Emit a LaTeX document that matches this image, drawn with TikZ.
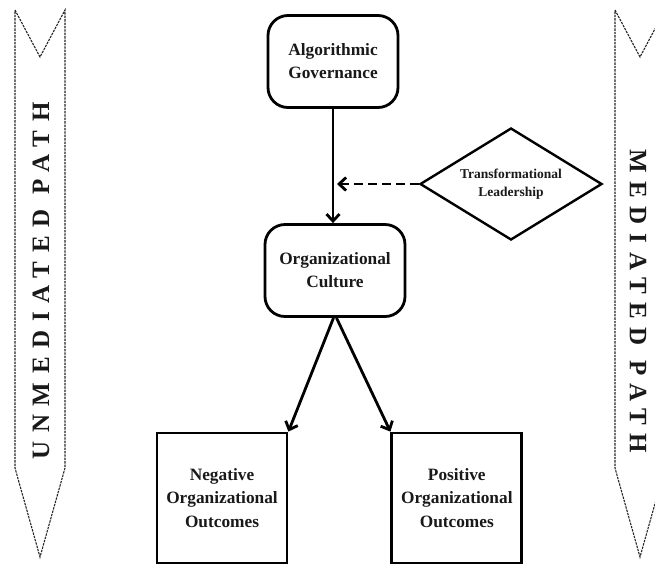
\documentclass[tikz,border=0pt]{standalone}
\usepackage{fontspec}
\setmainfont{Liberation Serif}
\usetikzlibrary{arrows.meta,calc,positioning,shapes.geometric}
\tikzset{
	flow diagram/.style={
		x=1pt, y=-1pt,
		every node/.style={align=center, text=black!90},
		ar/.style={line width=2.8pt, -{Straight Barb[length=7pt,width=13pt,line width=2.8pt]}},
		dar/.style={ar, dash pattern=on 9pt off 5pt}
		},
	rbox/.style={draw, line width=2.8pt, rounded corners=20pt,
		minimum width=#1, minimum height=92pt,
		font=\bfseries\fontsize{17.3}{23}\selectfont},
	rbox/.default=130pt,
	sbox/.style={draw, line width=2.8pt, minimum size=130pt, inner sep=2pt,
		font=\bfseries\fontsize{17.3}{23.5}\selectfont},
	dbox/.style={diamond, draw, line width=2.4pt, aspect=1.6, inner sep=0pt,
		minimum width=182pt, minimum height=112pt,
		font=\bfseries\fontsize{13.5}{18}\selectfont},
	band/.style={draw=black!85, line width=1.1pt, dash pattern=on 2.4pt off 1pt},
	band label/.style={inner sep=0pt,
		font=\bfseries\fontsize{25}{25}\selectfont\addfontfeature{LetterSpace=35}}
}

\begin{document}
\begin{tikzpicture}[flow diagram]
   \useasboundingbox (0,0) rectangle (655,566);
   % side bands
   \draw[band] (15,10) -- (40,57) -- (65,10) -- (65,468) -- (40,557) -- (15,468) -- cycle;
   \begin{scope}
      \clip (600,0) rectangle (655,566);
      \draw[band] (615,10) -- (640,57) -- (665,10) -- (665,468) -- (640,557) -- (615,468) -- cycle;
   \end{scope}
   \node[band label, rotate=90] (unmed) at (41,281) {UNMEDIATED PATH};
   \node[band label, rotate=-90] (med) at (638,301) {MEDIATED PATH};
   % model
   \node[rbox] (ag) at (333,61.5) {Algorithmic\\Governance};
   \node[rbox=140pt] (oc) at (335,270.5) {Organizational\\Culture};
   \node[dbox] (tl) at (511,184) {Transformational\\Leadership};
   \node[sbox] (neg) at (222,498) {Negative\\Organizational\\Outcomes};
   \node[sbox, right=102pt of neg] (pos) {Positive\\Organizational\\Outcomes};
   \coordinate (mod) at (tl.west -| ag.south);
   \draw[ar] (ag.south) -- (ag.south |- oc.north);
   \draw[dar, shorten >=4pt] (tl.west) -- (mod);
   \draw[ar] ([xshift=-1.5pt]oc.south) -- (neg.north east);
   \draw[ar] ([xshift=1.5pt]oc.south) -- (pos.north west);
\end{tikzpicture}
\end{document}
